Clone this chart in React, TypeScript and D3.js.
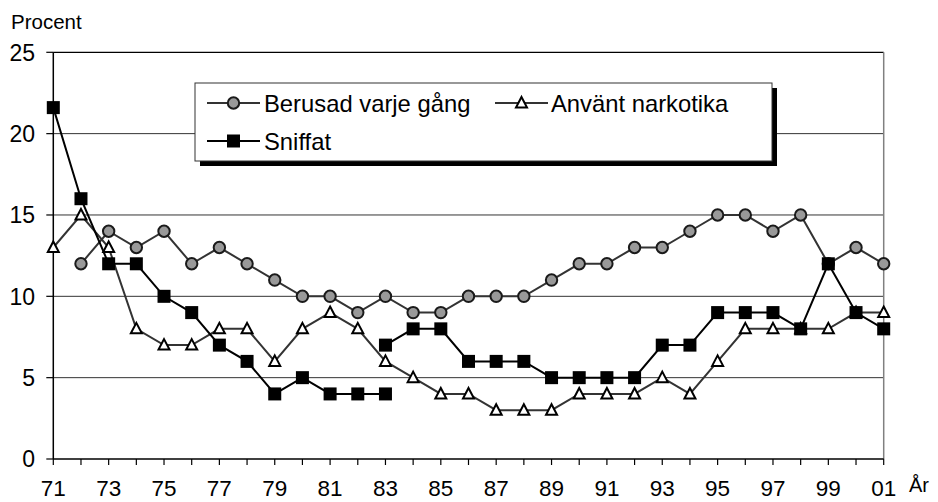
import * as d3 from 'd3';
import React from 'react';

// Andel (%) per år, 1971-2001
const years = d3.range(1971, 2002);
const yTicks = [0, 5, 10, 15, 20, 25];
const xTickLabels = ['71', '73', '75', '77', '79', '81', '83', '85', '87', '89', '91', '93', '95', '97', '99', '01'];

// Berusad varje gång: ingen mätning 1971
const berusadYears = d3.range(1972, 2002);
const berusad = [12, 14, 13, 14, 12, 13, 12, 11, 10, 10, 9, 10, 9, 9, 10, 10, 10, 11, 12, 12, 13, 13, 14, 15, 15, 14, 15, 12, 13, 12];

const narkotika = [13, 15, 13, 8, 7, 7, 8, 8, 6, 8, 9, 8, 6, 5, 4, 4, 3, 3, 3, 4, 4, 4, 5, 4, 6, 8, 8, 8, 8, 9, 9];

// Sniffat: serien bryts 1983 (ny fråga)
const sniffatYearsA = d3.range(1971, 1984);
const sniffatA = [21.6, 16, 12, 12, 10, 9, 7, 6, 4, 5, 4, 4, 4];
const sniffatYearsB = d3.range(1983, 2002);
const sniffatB = [7, 8, 8, 6, 6, 6, 5, 5, 5, 5, 7, 7, 9, 9, 9, 8, 12, 9, 8];

const W = 938;
const H = 502;
const FONT = '"Liberation Sans", Arial, sans-serif';

const x = d3.scaleLinear().domain([1971, 2001]).range([53.3, 883.7]);
const y = d3.scaleLinear().domain([0, 25]).range([459, 52.3]);

type Pt = [number, number];
const zip = (ys: number[], vs: number[]): Pt[] => ys.map((yr, i) => [yr, vs[i]]);
const line = d3.line<Pt>().x(d => x(d[0])).y(d => y(d[1]));

const Circle = ({ cx, cy }: { cx: number; cy: number }) => (
  <circle cx={cx} cy={cy} r={5.7} fill="#999999" stroke="#1a1a1a" strokeWidth={2} />
);
const Triangle = ({ cx, cy }: { cx: number; cy: number }) => (
  <path d={`M${cx},${cy - 6}L${cx + 5.5},${cy + 4.5}L${cx - 5.5},${cy + 4.5}Z`} fill="#fff" stroke="#000" strokeWidth={2} strokeLinejoin="miter" />
);
const Square = ({ cx, cy }: { cx: number; cy: number }) => (
  <rect x={cx - 6.5} y={cy - 6.5} width={13} height={13} fill="#000" />
);

const App: React.FC = () => {
  const berusadPts = zip(berusadYears, berusad);
  const narkPts = zip(years, narkotika);
  const sniffA = zip(sniffatYearsA, sniffatA);
  const sniffB = zip(sniffatYearsB, sniffatB);

  return (
    <div style={{ position: 'absolute', left: 0, top: 0 }}>
      <svg width={W} height={H} style={{ display: 'block', background: '#fff' }} fontFamily={FONT}>
        {/* gridlines */}
        {yTicks.slice(1, -1).map(t => (
          <line key={t} x1={x(1971)} x2={x(2001)} y1={y(t)} y2={y(t)} stroke="#333" strokeWidth={1} />
        ))}
        <line x1={x(1971)} x2={x(2001)} y1={y(25)} y2={y(25)} stroke="#000" strokeWidth={1.2} />
        <line x1={x(2001)} x2={x(2001)} y1={y(25)} y2={y(0)} stroke="#808080" strokeWidth={1.5} />

        {/* y axis */}
        <line x1={x(1971)} x2={x(1971)} y1={y(25)} y2={y(0)} stroke="#000" strokeWidth={1.5} />
        {yTicks.map(t => (
          <g key={t}>
            <line x1={x(1971) - 7} x2={x(1971)} y1={y(t)} y2={y(t)} stroke="#000" strokeWidth={1.2} />
            <text x={35} y={y(t)} dy="0.36em" textAnchor="end" fontSize={23} fill="#000">{t}</text>
          </g>
        ))}
        <text x={11} y={29} fontSize={20.5} fill="#000">Procent</text>

        {/* x axis */}
        <line x1={x(1971)} x2={x(2001)} y1={y(0)} y2={y(0)} stroke="#000" strokeWidth={1.5} />
        {years.map(yr => (
          <line key={yr} x1={x(yr)} x2={x(yr)} y1={y(0)} y2={y(0) + 6} stroke="#000" strokeWidth={1.2} />
        ))}
        {xTickLabels.map((lbl, i) => (
          <text key={lbl} x={x(1971 + i * 2)} y={496} textAnchor="middle" fontSize={22.5} fill="#000">{lbl}</text>
        ))}
        <text x={909} y={492} fontSize={20} fill="#000">År</text>

        {/* series */}
        <path d={line(berusadPts) ?? ''} fill="none" stroke="#333" strokeWidth={2} />
        {berusadPts.map(d => <Circle key={d[0]} cx={x(d[0])} cy={y(d[1])} />)}

        <path d={line(narkPts) ?? ''} fill="none" stroke="#333" strokeWidth={2} />
        {narkPts.map(d => <Triangle key={d[0]} cx={x(d[0])} cy={y(d[1])} />)}

        <path d={line(sniffA) ?? ''} fill="none" stroke="#000" strokeWidth={2} />
        <path d={line(sniffB) ?? ''} fill="none" stroke="#000" strokeWidth={2} />
        {sniffA.map(d => <Square key={'a' + d[0]} cx={x(d[0])} cy={y(d[1])} />)}
        {sniffB.map(d => <Square key={'b' + d[0]} cx={x(d[0])} cy={y(d[1])} />)}

        {/* legend */}
        <rect x={200} y={88} width={577} height={78} fill="#000" />
        <rect x={195} y={83} width={577} height={78} fill="#fff" stroke="#333" strokeWidth={1} />
        <g fontSize={23.8} fill="#000">
          <line x1={207} x2={260} y1={103} y2={103} stroke="#333" strokeWidth={2} />
          <Circle cx={233.5} cy={103} />
          <text x={264} y={103} dy="0.36em">Berusad varje gång</text>

          <line x1={495} x2={548} y1={103} y2={103} stroke="#333" strokeWidth={2} />
          <Triangle cx={521.5} cy={103} />
          <text x={551} y={103} dy="0.36em">Använt narkotika</text>

          <line x1={207} x2={260} y1={141} y2={141} stroke="#000" strokeWidth={2} />
          <Square cx={233.5} cy={141} />
          <text x={264} y={141} dy="0.36em">Sniffat</text>
        </g>
      </svg>
    </div>
  );
};

export default App;
